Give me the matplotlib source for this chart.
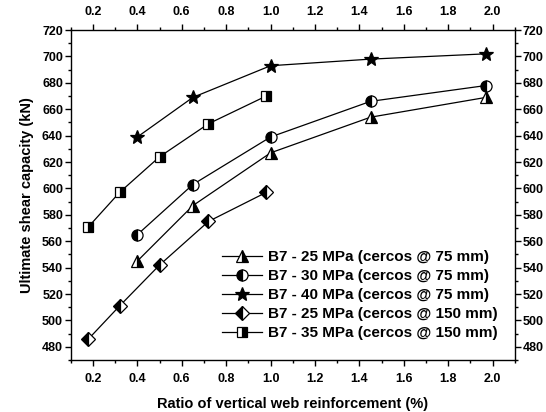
import matplotlib.pyplot as plt
from matplotlib.ticker import MultipleLocator

plt.rcParams['font.family'] = ['Liberation Sans', 'DejaVu Sans']
plt.rcParams['font.weight'] = 'bold'

# data
x_75 = [0.40, 0.65, 1.00, 1.45, 1.97]
y_25_75 = [545, 587, 627, 654, 669]
y_30_75 = [565, 603, 639, 666, 678]
y_40_75 = [639, 669, 693, 698, 702]

x_150 = [0.18, 0.32, 0.50, 0.72, 0.98]
y_25_150 = [486, 511, 542, 575, 597]
y_35_150 = [571, 597, 624, 649, 670]

labels = ['B7 - 25 MPa (cercos @ 75 mm)',
          'B7 - 30 MPa (cercos @ 75 mm)',
          'B7 - 40 MPa (cercos @ 75 mm)',
          'B7 - 25 MPa (cercos @ 150 mm)',
          'B7 - 35 MPa (cercos @ 150 mm)']

fig = plt.figure(figsize=(5.46, 4.12), dpi=100)
ax = fig.add_axes([0.1295, 0.126, 0.8135, 0.801])

common = dict(color='black', lw=0.9, markersize=8, markeredgecolor='black',
              markerfacecolor='black', markerfacecoloralt='white', markeredgewidth=0.9)
ax.plot(x_75, y_25_75, marker='^', fillstyle='right', label=labels[0], **common)
ax.plot(x_75, y_30_75, marker='o', fillstyle='left', label=labels[1], **common)
ax.plot(x_75, y_40_75, marker='*', fillstyle='full', label=labels[2],
        **{**common, 'markersize': 10})
ax.plot(x_150, y_25_150, marker='D', fillstyle='left', label=labels[3],
        **{**common, 'markersize': 7})
ax.plot(x_150, y_35_150, marker='s', fillstyle='right', label=labels[4],
        **{**common, 'markersize': 7})

ax.set_xlim(0.1, 2.1)
ax.set_ylim(470, 720)
ax.xaxis.set_major_locator(MultipleLocator(0.2))
ax.xaxis.set_minor_locator(MultipleLocator(0.1))
ax.yaxis.set_major_locator(MultipleLocator(20))
ax.yaxis.set_minor_locator(MultipleLocator(10))
ax.xaxis.set_major_formatter(plt.FormatStrFormatter('%.1f'))

ax.tick_params(which='both', direction='out', top=True, right=True,
               labeltop=True, labelright=True, labelsize=9, width=1)
ax.tick_params(which='major', length=4)
ax.tick_params(which='minor', length=2.5)
ax.tick_params(axis='y', which='major', pad=1.5)
ax.tick_params(axis='x', which='major', pad=5)
for s in ax.spines.values():
    s.set_linewidth(1)

ax.set_xlabel('Ratio of vertical web reinforcement (%)', fontsize=10.5, fontweight='bold', labelpad=9)
ax.set_ylabel('Ultimate shear capacity (kN)', fontsize=10.5, fontweight='bold', labelpad=6)

ax.legend(loc='lower right', bbox_to_anchor=(0.975, 0.042), frameon=False,
          fontsize=11, handlelength=2.6, labelspacing=0.33, borderaxespad=0,
          handletextpad=0.4)

fig.savefig('out.png', dpi=100)
